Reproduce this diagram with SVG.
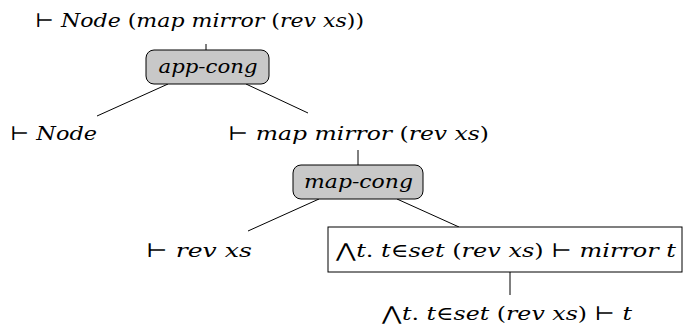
<svg xmlns="http://www.w3.org/2000/svg" width="685" height="334" viewBox="0 0 685 334">
<style>
text{font-family:'DejaVu Serif','Liberation Serif',serif;font-size:19px;fill:#000;text-anchor:middle}
.i{font-style:italic}
.rule{fill:#c8c8c8;stroke:#000;stroke-width:1}
.box{fill:#fff;stroke:#000;stroke-width:1}
.c line{stroke:#000;stroke-width:1}
</style>
<g class="c" id="connectors">
<line x1="206" y1="44" x2="206" y2="50"/>
<line x1="168" y1="84" x2="97" y2="116"/>
<line x1="246" y1="84" x2="308" y2="113"/>
<line x1="358" y1="150" x2="358" y2="165"/>
<line x1="319" y1="199" x2="248" y2="231"/>
<line x1="397" y1="199" x2="459" y2="227"/>
<line x1="510" y1="272" x2="510" y2="295"/>
</g>
<g id="n1"><text x="199.5" y="27" textLength="329" lengthAdjust="spacingAndGlyphs">⊢ <tspan class="i">Node</tspan> (<tspan class="i">map mirror</tspan> (<tspan class="i">rev xs</tspan>))</text></g>
<g id="r1"><rect class="rule" x="146" y="50" width="123" height="34" rx="8"/><text class="i" x="208" y="73" textLength="99" lengthAdjust="spacingAndGlyphs">app-cong</text></g>
<g id="n2"><text x="53.5" y="140" textLength="87" lengthAdjust="spacingAndGlyphs">⊢ <tspan class="i">Node</tspan></text></g>
<g id="n3"><text x="358.5" y="140" textLength="261" lengthAdjust="spacingAndGlyphs">⊢ <tspan class="i">map mirror</tspan> (<tspan class="i">rev xs</tspan>)</text></g>
<g id="r2"><rect class="rule" x="293" y="165" width="130" height="34" rx="8"/><text class="i" x="358.5" y="188" textLength="109" lengthAdjust="spacingAndGlyphs">map-cong</text></g>
<g id="n4"><text x="199" y="257" textLength="106" lengthAdjust="spacingAndGlyphs">⊢ <tspan class="i">rev xs</tspan></text></g>
<g id="n5"><rect class="box" x="328" y="227" width="354" height="45"/><text x="506" y="257" textLength="340" lengthAdjust="spacingAndGlyphs">⋀<tspan class="i">t</tspan>. <tspan class="i">t</tspan>∈<tspan class="i">set</tspan> (<tspan class="i">rev xs</tspan>) ⊢ <tspan class="i">mirror t</tspan></text></g>
<g id="n6"><text x="507" y="320" textLength="250" lengthAdjust="spacingAndGlyphs">⋀<tspan class="i">t</tspan>. <tspan class="i">t</tspan>∈<tspan class="i">set</tspan> (<tspan class="i">rev xs</tspan>) ⊢ <tspan class="i">t</tspan></text></g>
</svg>
